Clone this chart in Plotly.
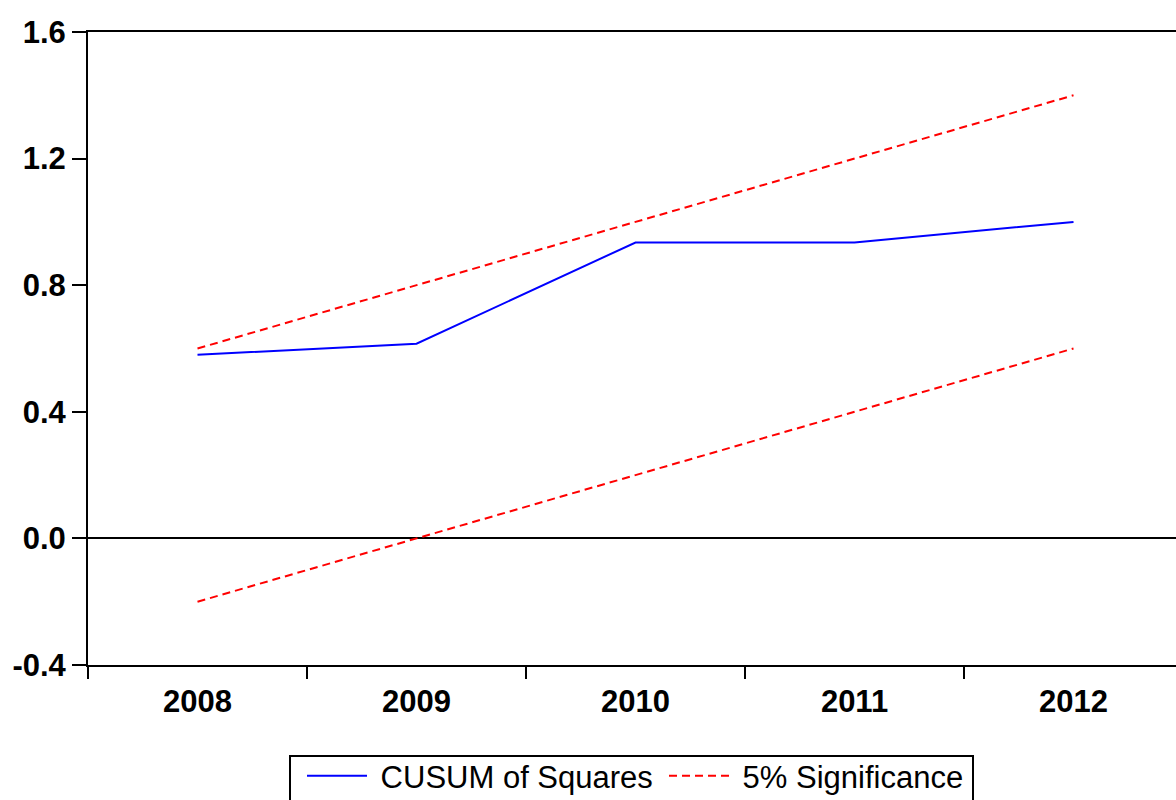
import plotly.graph_objects as go

# CUSUM of squares test output with 5% significance bounds
years = ["2008", "2009", "2010", "2011", "2012"]
cusum_sq = [0.58, 0.615, 0.935, 0.935, 1.0]
upper_bound = [0.6, 0.8, 1.0, 1.2, 1.4]
lower_bound = [-0.2, 0.0, 0.2, 0.4, 0.6]
y_ticks = [-0.4, 0.0, 0.4, 0.8, 1.2, 1.6]
y_tick_text = ["-0.4", "0.0", "0.4", "0.8", "1.2", "1.6"]

tick_font = dict(family="Liberation Sans, Arial, sans-serif", size=31,
                 color="black", weight="bold")
legend_font = dict(family="Liberation Sans, Arial, sans-serif", size=31, color="black")
bound_dash = "8px,5px"

# plot area in pixels: left 88, right 1176, top 32, bottom 665
def px_x(px):
    return (px - 88) / 1088

def px_y(py):
    return (665 - py) / 633

fig = go.Figure()
fig.add_trace(go.Scatter(
    x=years, y=cusum_sq, mode="lines", name="\u00a0CUSUM of Squares",
    line=dict(color="#0000FF", width=2),
))
fig.add_trace(go.Scatter(
    x=years, y=upper_bound, mode="lines", name="\u00a05% Significance",
    line=dict(color="#FF0000", width=2, dash=bound_dash),
))
fig.add_trace(go.Scatter(
    x=years, y=lower_bound, mode="lines", name="5% Significance",
    line=dict(color="#FF0000", width=2, dash=bound_dash), showlegend=False,
))

# legend frame
fig.add_shape(
    type="rect", xref="paper", yref="paper",
    x0=px_x(290), x1=px_x(973), y0=px_y(756), y1=px_y(812),
    line=dict(color="black", width=2), fillcolor="rgba(0,0,0,0)",
)

fig.update_layout(
    width=1176, height=800,
    margin=dict(l=88, r=0, t=32, b=135, autoexpand=False),
    paper_bgcolor="white", plot_bgcolor="white",
    showlegend=True,
    legend=dict(
        orientation="h", x=px_x(302), y=px_y(749),
        xanchor="left", yanchor="top",
        borderwidth=0, bgcolor="rgba(0,0,0,0)",
        font=legend_font, itemwidth=60, entrywidth=287,
    ),
)
fig.update_xaxes(
    type="category", range=[-0.5, 4.468], tickson="boundaries",
    ticks="outside", ticklen=12, tickwidth=2, tickcolor="black",
    showline=True, linecolor="black", linewidth=2, mirror=True,
    showgrid=False, zeroline=False, tickfont=tick_font,
    automargin=False, ticklabelstandoff=8,
)
fig.update_yaxes(
    range=[-0.4, 1.6], tickvals=y_ticks, ticktext=y_tick_text,
    ticks="outside", ticklen=14, tickwidth=2, tickcolor="black",
    showline=True, linecolor="black", linewidth=2, mirror=False,
    showgrid=False, zeroline=True, zerolinecolor="black", zerolinewidth=2,
    tickfont=tick_font, automargin=False,
)

fig.write_html("out.html")
